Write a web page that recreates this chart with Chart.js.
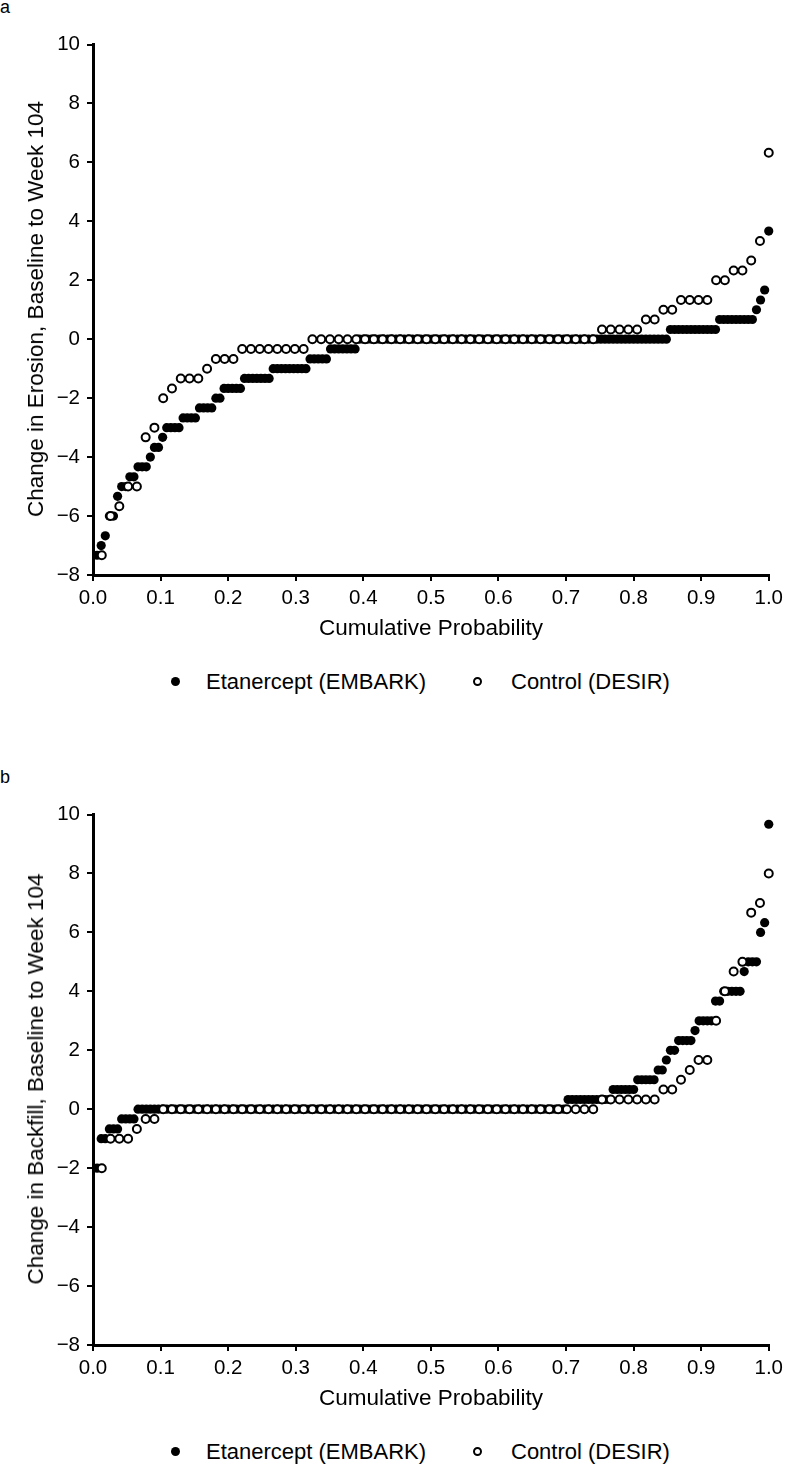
<!DOCTYPE html>
<html>
<head>
<meta charset="utf-8">
<script src="https://cdn.jsdelivr.net/npm/chart.js@4/dist/chart.umd.min.js"></script>
<style>
body{margin:0;background:#fff;font-family:"Liberation Sans",Arial,sans-serif;color:#000;}
#page{position:relative;width:788px;height:1472px;overflow:hidden;}
canvas{position:absolute;left:0;display:block;}
.tag{position:absolute;left:0;font-size:18px;line-height:20px;}
.dot{position:absolute;width:9px;height:9px;border-radius:50%;box-sizing:border-box;}
.dot.fill{background:#000;}
.dot.open{background:#fff;border:2px solid #000;}
.txt{position:absolute;font-size:22px;line-height:22px;white-space:nowrap;}
.xt,.yt{position:absolute;font-size:22.5px;line-height:24px;white-space:nowrap;}
.xt{transform:translate(-50%,-50%);}
.yt{transform:translate(-50%,-50%) rotate(-90deg);}
</style>
</head>
<body>
<div id="page">
  <div class="tag" style="top:-3px">a</div>
  <canvas id="chartA" width="788" height="660" style="top:0"></canvas>
  <div class="yt" style="left:36px;top:309px">Change in Erosion, Baseline to Week 104</div>
  <div class="xt" style="left:431px;top:628px">Cumulative Probability</div>
  <span class="dot fill" style="left:171px;top:677px"></span><span class="txt" style="left:206px;top:671px">Etanercept (EMBARK)</span>
  <span class="dot open" style="left:473px;top:677px"></span><span class="txt" style="left:511px;top:671px">Control (DESIR)</span>

  <div class="tag" style="top:767px">b</div>
  <canvas id="chartB" width="788" height="660" style="top:770px"></canvas>
  <div class="yt" style="left:36px;top:1079px">Change in Backfill, Baseline to Week 104</div>
  <div class="xt" style="left:431px;top:1398px">Cumulative Probability</div>
  <span class="dot fill" style="left:171px;top:1447px"></span><span class="txt" style="left:206px;top:1441px">Etanercept (EMBARK)</span>
  <span class="dot open" style="left:473px;top:1447px"></span><span class="txt" style="left:511px;top:1441px">Control (DESIR)</span>
</div>
<script>
// sorted change scores as runs: value + how many patients have it
const erosionEtaValues=[-7.33,-7,-6.67,-6,-5.33,-5,-4.67,-4.33,-4,-3.67,-3.33,-3,-2.67,-2.33,-2,-1.67,-1.33,-1,-0.67,-0.33,0,0.33,0.67,1,1.33,1.67,3.67];
const erosionEtaCounts=[1,1,1,2,1,2,2,3,1,2,1,4,4,4,2,5,7,9,5,7,76,12,9,1,1,1,1];
const erosionCtlValues=[-7.33,-6,-5.67,-5,-3.33,-3,-2,-1.67,-1.33,-1,-0.67,-0.33,0,0.33,0.67,1,1.33,2,2.33,2.67,3.33,6.33];
const erosionCtlCounts=[1,1,1,2,1,1,1,1,3,1,3,8,33,5,2,2,4,2,2,1,1,1];

const backfillEtaValues=[-2,-1,-0.67,-0.33,0,0.33,0.67,1,1.33,1.67,2,2.33,2.67,3,3.67,4,4.67,5,6,6.33,9.67];
const backfillEtaCounts=[1,2,3,4,105,11,6,5,2,1,2,4,1,4,2,5,1,3,1,1,1];
const backfillCtlValues=[-2,-1,-0.67,-0.33,0,0.33,0.67,1,1.33,1.67,3,4,4.67,5,6.67,7,8];
const backfillCtlCounts=[1,3,1,2,50,7,2,1,1,2,1,1,1,1,1,1,1];

const yTicks=[-8,-6,-4,-2,0,2,4,6,8,10];
const xTicks=[0,0.1,0.2,0.3,0.4,0.5,0.6,0.7,0.8,0.9,1.0];
const seriesNames=["Etanercept (EMBARK)","Control (DESIR)"];

Chart.defaults.font.family='"Liberation Sans", Arial, sans-serif';
Chart.defaults.color='#000';

// cumulative probability = rank / n
function cumPoints(values,counts){
  let n=counts.reduce((a,b)=>a+b,0),pts=[],rank=0;
  values.forEach((v,i)=>{
    for(let k=0;k<counts[i];k++){ rank++; pts.push({x:rank/n,y:v}); }
  });
  return pts;
}

function makeChart(id,etaV,etaC,ctlV,ctlC){
  let ctx=document.getElementById(id).getContext("2d");
  return new Chart(ctx,{
    type:'scatter',
    data:{datasets:[
      {label:seriesNames[1],data:cumPoints(ctlV,ctlC),order:0,clip:false,
       pointRadius:4,pointBorderWidth:2,pointBackgroundColor:'#fff',pointBorderColor:'#000'},
      {label:seriesNames[0],data:cumPoints(etaV,etaC),order:1,clip:false,
       pointRadius:4.6,pointBorderWidth:0,pointBackgroundColor:'#000',pointBorderColor:'#000'}
    ]},
    options:{
      responsive:false,animation:false,
      layout:{padding:{top:44.5,right:18,bottom:15,left:0}},
      plugins:{legend:{display:false},tooltip:{enabled:false}},
      scales:{
        x:{type:'linear',min:0,max:1,
          afterBuildTicks:s=>{s.ticks=xTicks.map(v=>({value:v}));},
          afterFit:s=>{s.height=70;},
          grid:{drawOnChartArea:false,drawTicks:true,tickLength:6,color:'#000',lineWidth:2},
          border:{display:true,color:'#000',width:3},
          ticks:{autoSkip:false,maxRotation:0,padding:5,font:{size:20.5},callback:v=>Number(v).toFixed(1)}
        },
        y:{type:'linear',min:-8,max:10,
          afterBuildTicks:s=>{s.ticks=yTicks.map(v=>({value:v}));},
          afterFit:s=>{s.width=93;},
          grid:{drawOnChartArea:false,drawTicks:true,tickLength:6,color:'#000',lineWidth:2},
          border:{display:true,color:'#000',width:3},
          ticks:{padding:7,font:{size:20.5},callback:v=>String(v).replace('-','\u2212')}
        }
      }
    }
  });
}

makeChart("chartA",erosionEtaValues,erosionEtaCounts,erosionCtlValues,erosionCtlCounts);
makeChart("chartB",backfillEtaValues,backfillEtaCounts,backfillCtlValues,backfillCtlCounts);
</script>
</body>
</html>
